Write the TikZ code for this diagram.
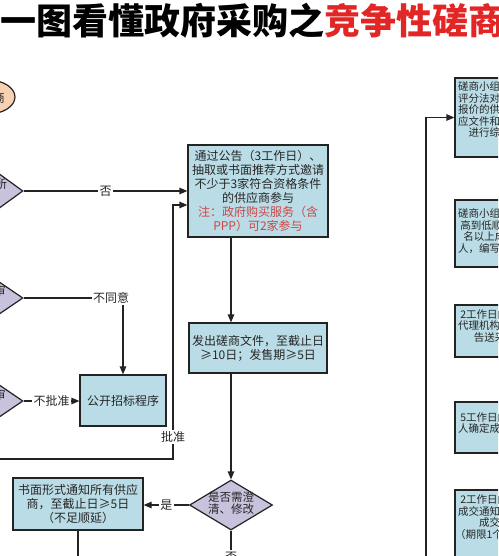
\documentclass[tikz,border=0pt]{standalone}
\usepackage{fontspec}
\setmainfont{Noto Sans CJK SC}
\usetikzlibrary{shapes.geometric,arrows.meta}
\definecolor{linec}{RGB}{35,35,35}
\definecolor{boxblue}{RGB}{186,220,230}
\definecolor{dialav}{RGB}{201,194,220}
\definecolor{peach}{RGB}{248,208,178}
\definecolor{notered}{RGB}{205,70,70}
\definecolor{titlered}{RGB}{226,38,38}
\begin{document}
\begin{tikzpicture}[x=1pt,y=-1pt,
  every node/.style={font=\fontsize{12}{14}\selectfont, inner sep=0pt, text=black!85},
  box/.style={draw=linec, line width=1.2pt, fill=boxblue, align=center},
  dia/.style={diamond, draw=linec, line width=1.2pt, fill=dialav, inner sep=0pt},
  conn/.style={draw=linec, line width=1.2pt},
  arr/.style={conn, -{Triangle[length=8pt,width=6.5pt]}},
  lab/.style={fill=white, inner sep=1.5pt},
  rtxt/.style={font=\fontsize{10.5}{11.5}\selectfont, align=center}
]
\useasboundingbox (0,0) rectangle (498,556);
\clip (0,0) rectangle (498,556);
\fill[white] (0,0) rectangle (498,556);

% title
\node[anchor=west, font=\fontsize{36}{36}\selectfont\bfseries, text=black] (title) at (0,21)
  {一图看懂政府采购之\textcolor{titlered}{竞争性磋商}};

% start ellipse (cut)
\node[ellipse, draw=linec, line width=1.2pt, fill=peach, minimum width=54pt, minimum height=34pt] (start) at (-12,97) {};
\node (startt) at (-1,98) {商};

% left diamonds (cut)
\node[dia, minimum width=88pt, minimum height=64pt] (d1) at (-21,191) {};
\node (d1t) at (1,184) {所};
\node[dia, minimum width=88pt, minimum height=60pt] (d2) at (-21,298) {};
\node (d2t) at (0,291) {审};
\node[dia, minimum width=88pt, minimum height=60pt] (d3) at (-21,401) {};
\node (d3t) at (0,395) {审};

% middle boxes
\node[box, minimum width=140pt, minimum height=92pt] (b1) at (258,191)
  {通过公告（3工作日）、\\抽取或书面推荐方式邀请\\不少于3家符合资格条件\\的供应商参与\\
   \textcolor{notered}{注：政府购买服务（含}\\\textcolor{notered}{PPP）可2家参与}};
\node[box, minimum width=138pt, minimum height=50pt] (b2) at (258,348)
  {发出磋商文件，至截止日\\≥10日；发售期≥5日};
\node[dia, minimum width=83pt, minimum height=50pt] (d4) at (231,505) {};
\node[align=center, font=\fontsize{11.5}{12.5}\selectfont] (d4t) at (231,503) {是否需澄\\清、修改};
\node[box, minimum width=130pt, minimum height=52pt] (b3) at (78,504)
  {书面形式通知所有供应\\商，至截止日≥5日\\（不足顺延）};
\node[box, minimum width=86pt, minimum height=51pt] (b4) at (123,400.5) {公开招标程序};

% right column boxes (cut)
\node[box, minimum width=90pt, minimum height=79pt] (r1) at (500,117.5) {};
\node[rtxt] (r1t) at (500,110) {磋商小组采用综合\\评分法对提交最后\\报价的供应商的响\\应文件和最后报价\\进行综合评分};
\node[box, minimum width=90pt, minimum height=67pt] (r2) at (500,233.5) {};
\node[rtxt] (r2t) at (500,231) {磋商小组按得分由\\高到低顺序推荐3\\名以上成交候选\\人，编写评审报告};
\node[box, minimum width=90pt, minimum height=52pt] (r3) at (500,331) {};
\node[rtxt] (r3t) at (500,326) {2工作日内，采购\\代理机构将评审报\\告送采购人};
\node[box, minimum width=90pt, minimum height=51pt] (r4) at (500,427.5) {};
\node[rtxt] (r4t) at (500,423) {5工作日内，采购\\人确定成交供应商};
\node[box, minimum width=90pt, minimum height=74pt] (r5) at (500,527) {};
\node[rtxt] (r5t) at (500,517) {2工作日内，发出\\成交通知书，公告\\成交结果\\（期限1个工作日）};

% connectors
\draw[arr] (d1.east) -- (d1.east -| b1.west) node[lab, midway] (l1) {否};

\coordinate (spine) at (231,0);
\draw[arr] (b1.south -| spine) -- (b2.north -| spine);
\draw[arr] (b2.south -| spine) -- (d4.north);

\draw[arr] (d2.east) -- (d2.east -| b4.north) -- (b4.north);
\node[lab] (l2) at (111,298) {不同意};

\draw[arr] (d3.east) -- (d3.east -| b4.west) node[lab, midway] (l3) {不批准};

\coordinate (pz) at (0,459);
\coordinate (pzc) at (173,459);
\coordinate (b1in) at ([yshift=-14pt]b1.west);
\draw[arr] (pz) -- (pzc) -- (pzc |- b1in) -- (b1in);
\node[lab] (l4) at (173,437) {批准};

\draw[arr] (d4.west) -- (d4.west -| b3.east) node[lab, midway] (l5) {是};
\coordinate (b3out) at (78,575);
\draw[conn] (b3.south) -- (b3out);
\coordinate (d4out) at (231,580);
\draw[conn] (d4.south) -- (d4out);
\node[lab] (l6) at (231,557) {否};

\coordinate (rbot) at (426,575);
\draw[arr] (rbot) -- (rbot |- r1.west) -- (r1.west);
\end{tikzpicture}
\end{document}
